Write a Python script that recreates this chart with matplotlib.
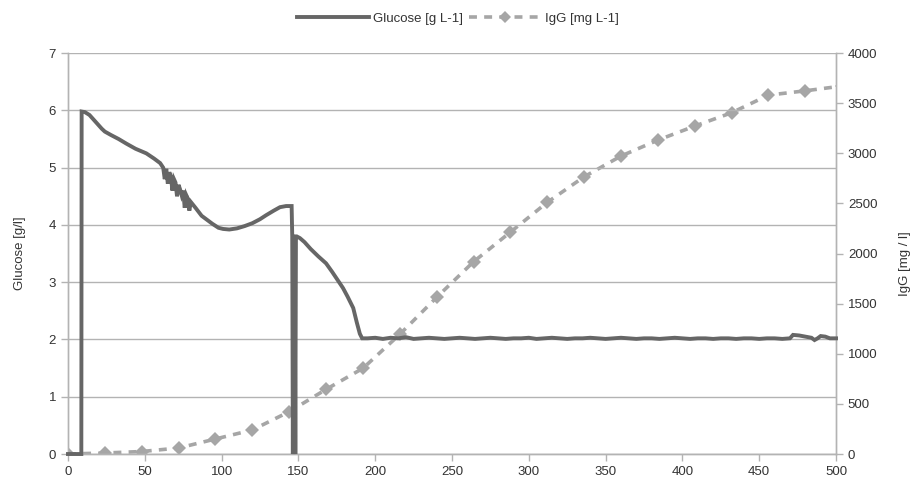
import matplotlib
matplotlib.use("Agg")
import matplotlib.pyplot as plt
from matplotlib.lines import Line2D

plt.rcParams['font.family'] = ['Liberation Sans', 'DejaVu Sans']

# Glucose [g/l] over time [h]
glc_t = [0, 8.7, 8.9, 11, 14, 18, 22, 24, 28, 33, 38, 44, 51, 56, 60,
         62, 63, 64, 65, 66, 67, 68, 69, 70, 71, 72, 73, 74, 75, 76, 77, 78, 79, 80,
         83, 87, 90, 94, 98, 101, 105, 110, 115, 120, 125, 129, 134, 138, 142, 145.6,
         146.0, 146.4, 146.8, 147.2, 147.6, 148.0, 148.4, 148.9, 151, 154, 158, 163,
         168, 172, 176, 179, 182, 185.7, 188, 190, 191.5,
         195, 200, 205, 210, 215, 220, 225, 230, 235, 240, 245, 250, 255, 260, 265,
         270, 275, 280, 285, 290, 295, 300, 305, 310, 315, 320, 325, 330, 335, 340,
         345, 350, 355, 360, 365, 370, 375, 380, 385, 390, 395, 400, 405, 410, 415,
         420, 425, 430, 435, 440, 445, 450, 455, 460, 465, 470, 472, 476, 480, 484,
         486, 488, 490, 493, 496, 500]
glc_v = [0, 0, 5.98, 5.97, 5.92, 5.80, 5.68, 5.63, 5.57, 5.50, 5.42, 5.33, 5.25, 5.16, 5.08,
         5.00, 4.80, 4.98, 4.72, 4.92, 4.84, 4.60, 4.80, 4.74, 4.50, 4.70, 4.62, 4.52, 4.60,
         4.30, 4.52, 4.46, 4.25, 4.40,
         4.30, 4.16, 4.10, 4.02, 3.95, 3.93, 3.92, 3.94, 3.98, 4.03, 4.10, 4.17, 4.25, 4.31, 4.33, 4.33,
         3.80, 0.0, 3.80, 0.0, 3.80, 0.0, 3.80, 3.80, 3.77, 3.70, 3.58, 3.45,
         3.33, 3.18, 3.02, 2.90, 2.75, 2.55, 2.30, 2.10, 2.02,
         2.02, 2.03, 2.01, 2.03, 2.02, 2.04, 2.01, 2.02, 2.03, 2.02, 2.01, 2.02, 2.03, 2.02, 2.01,
         2.02, 2.03, 2.02, 2.01, 2.02, 2.02, 2.03, 2.01, 2.02, 2.03, 2.02, 2.01, 2.02, 2.02, 2.03,
         2.02, 2.01, 2.02, 2.03, 2.02, 2.01, 2.02, 2.02, 2.01, 2.02, 2.03, 2.02, 2.01, 2.02, 2.02,
         2.01, 2.02, 2.02, 2.01, 2.02, 2.02, 2.01, 2.02, 2.02, 2.01, 2.02, 2.08, 2.07, 2.05, 2.03,
         1.99, 2.02, 2.06, 2.05, 2.02, 2.02]

# IgG [mg/l]
igg_t = [0, 24, 48, 72, 96, 120, 144, 168, 192, 216, 240, 264, 288, 312, 336,
         360, 384, 408, 432, 456, 480, 504]
igg_v = [0, 10, 25, 60, 150, 240, 422, 645, 855, 1194, 1563, 1918, 2214, 2511, 2766,
         2973, 3132, 3272, 3405, 3581, 3624, 3672]

x_ticks = [0, 50, 100, 150, 200, 250, 300, 350, 400, 450, 500]
left_ticks = [0, 1, 2, 3, 4, 5, 6, 7]
right_ticks = [0, 500, 1000, 1500, 2000, 2500, 3000, 3500, 4000]

glc_color = '#666666'
igg_color = '#a6a6a6'
grid_color = '#b3b3b3'
text_color = '#333333'

fig = plt.figure(figsize=(9.16, 4.83), dpi=100)
ax = fig.add_axes([0.0742, 0.060, 0.8385, 0.830])
ax2 = ax.twinx()

ax.set_zorder(2)
ax.patch.set_visible(False)

ax.plot(glc_t, glc_v, color=glc_color, lw=2.8, solid_joinstyle='miter', zorder=3, clip_on=False)
ax2.plot(igg_t, igg_v, color=igg_color, lw=2.6, ls=(0, (2.2, 2.0)), marker='D', ms=7.5,
         markeredgewidth=0, zorder=2)

ax.set_xlim(0, 500)
ax.set_ylim(0, 7)
ax2.set_ylim(0, 4000)
ax.set_xticks(x_ticks)
ax.set_yticks(left_ticks)
ax2.set_yticks(right_ticks)

for a in (ax, ax2):
    for s in a.spines.values():
        s.set_color(grid_color)
        s.set_linewidth(1)
    a.spines['top'].set_visible(False)
    a.tick_params(colors=grid_color, labelcolor=text_color, labelsize=9.5, length=5, width=1)

ax.yaxis.grid(True, color=grid_color, lw=1)
ax.set_axisbelow(True)
ax2.yaxis.grid(False)
ax.xaxis.grid(False)

ax.set_ylabel('Glucose [g/l]', fontsize=9.5, color=text_color, labelpad=16)
fig.text(0.988, 0.455, 'IgG [mg / l]', rotation=90, fontsize=9.5, color=text_color,
         ha='center', va='center')

handles = [Line2D([], [], color=glc_color, lw=2.8),
           Line2D([], [], color=igg_color, lw=2.6, ls=(0, (2.2, 2.0)), marker='D', ms=6,
                  markeredgewidth=0)]
fig.legend(handles, ['Glucose [g L-1]', 'IgG [mg L-1]'], loc='upper center',
           bbox_to_anchor=(0.5, 0.998), ncol=2, frameon=False, fontsize=9.5,
           handlelength=5.5, columnspacing=0.4, handletextpad=0.3, labelcolor=text_color)

fig.savefig('out.png', dpi=100)
